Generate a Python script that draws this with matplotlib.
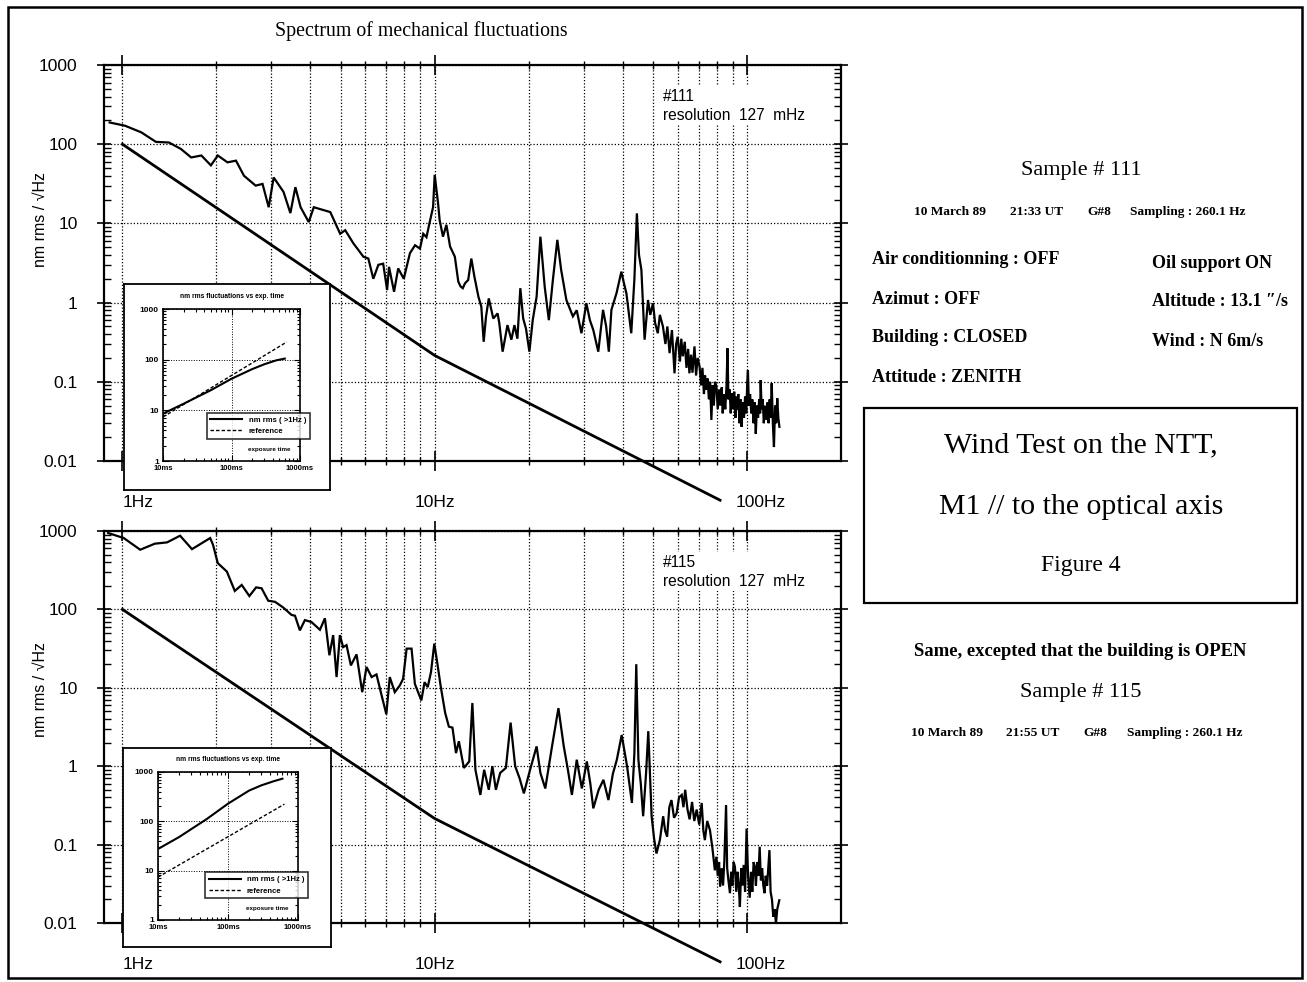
''' NTT wind test: spectrum of mechanical fluctuations '''
import matplotlib
matplotlib.use('Agg')
import matplotlib.pyplot as plt
from matplotlib.ticker import FixedLocator, NullFormatter, LogLocator
from matplotlib.patches import Rectangle

SANS = ['Liberation Sans', 'DejaVu Sans']
SERIF = ['Liberation Serif', 'DejaVu Serif']

# ---------------- data ----------------
# sample 111 (building closed): frequency [Hz], amplitude [nm rms / sqrt(Hz)]
freq_111 = [0.91, 1.02, 1.15, 1.28, 1.41, 1.54, 1.66, 1.79, 1.92, 2.02, 2.17, 2.31, 2.45, 2.67,
            2.81, 2.94, 3.05, 3.28, 3.45, 3.58, 3.72, 3.95, 4.10, 4.63, 4.98, 5.17, 5.49, 5.91,
            6.13, 6.36, 6.60, 6.84, 7.04, 7.14, 7.41, 7.64, 7.96, 8.33, 8.65, 8.97, 9.19, 9.41,
            9.64, 9.88, 10.0, 10.25, 10.37, 10.63, 10.9, 11.2, 11.6, 11.9, 12.1, 12.3, 12.5, 12.8,
            13.1, 13.4, 13.8, 14.1, 14.35, 14.6, 14.9, 15.4, 15.9, 16.1, 16.5, 17.1, 17.6, 18.0,
            18.4, 18.8, 19.2, 19.6, 20.1, 20.6, 21.2, 21.8, 22.5, 23.2, 23.9, 24.7, 25.4, 26.4,
            27.7, 28.5, 29.5, 30.6, 31.4, 32.2, 33.4, 34.6, 35.4, 36.1, 36.8, 38.2, 39.6, 40.3,
            41.1, 42.6, 43.6, 44.4, 45.1, 45.9, 47.0, 48.2, 49.0, 50.0, 50.8, 51.8, 52.6, 53.8,
            54.8, 55.6, 56.5, 57.5, 58.6, 59.3, 60.0, 61.0, 61.6, 62.3, 63.2, 64.0, 64.8, 65.4,
            66.2, 66.9, 67.9, 68.7, 69.5, 70.5, 71.3, 72.0, 72.8, 73.4, 74.0, 74.8, 75.5, 76.2,
            76.9, 77.6, 78.3, 79.0, 79.8, 80.6, 81.4, 82.2, 83.0, 83.6, 84.4, 85.2, 86.0, 86.6,
            87.2, 88.0, 88.7, 89.4, 90.2, 91.0, 91.8, 92.4, 93.0, 93.8, 94.6, 95.4, 96.1, 97.0,
            97.8, 98.6, 99.5, 100.2, 100.7, 101.4, 102.3, 103.2, 104.0, 104.9, 105.8, 106.7,
            107.6, 108.5, 109.4, 110.2, 110.6, 111.4, 112.3, 113.2, 114.2, 115.5, 116.4, 117.3,
            118.2, 119.1, 120.0, 121.0, 122.0, 123.0, 124.0, 125.0, 126.0, 127.0]
amp_111 = [188, 171, 141, 107, 105, 87, 68, 72, 54, 72, 59, 62, 40, 30,
           31.5, 16, 38, 25, 13.5, 28.7, 16, 10.4, 16, 13.9, 7.4, 8.2, 5.6, 3.8,
           3.6, 2.0, 3.0, 3.1, 1.44, 2.83, 1.37, 2.7, 2.0, 4.2, 5.3, 4.8, 7.4, 6.7,
           10.4, 16, 41, 18, 11, 6.8, 9.6, 5.1, 3.8, 1.84, 1.6, 1.52, 1.75, 1.93,
           3.6, 2.13, 1.19, 0.89, 0.32, 0.67, 1.13, 0.63, 0.73, 0.55, 0.24, 0.52, 0.34, 0.52,
           0.35, 1.52, 0.63, 0.47, 0.24, 0.6, 1.19, 6.8, 1.59, 0.6, 1.93, 6.2, 2.6, 1.08,
           0.67, 0.8, 0.41, 0.98, 0.6, 0.45, 0.24, 0.81, 0.5, 0.24, 0.81, 1.31, 2.46, 1.8,
           1.31, 0.41, 2.0, 13.4, 4.0, 2.6, 0.34, 1.08, 0.7, 0.98, 0.55, 0.41, 0.7, 0.5,
           0.3, 0.5, 0.23, 0.45, 0.128, 0.3, 0.37, 0.18, 0.35, 0.21, 0.32, 0.15, 0.26, 0.128,
           0.22, 0.13, 0.28, 0.12, 0.2, 0.156, 0.09, 0.15, 0.07, 0.12, 0.079, 0.11, 0.06, 0.1,
           0.033, 0.09, 0.05, 0.1, 0.087, 0.045, 0.08, 0.05, 0.085, 0.040, 0.07, 0.045, 0.09, 0.265,
           0.06, 0.08, 0.04, 0.072, 0.045, 0.075, 0.035, 0.065, 0.044, 0.07, 0.03, 0.06, 0.027, 0.055,
           0.035, 0.065, 0.04, 0.1, 0.14, 0.05, 0.07, 0.040, 0.06, 0.03, 0.055, 0.022,
           0.05, 0.035, 0.06, 0.04, 0.105, 0.045, 0.06, 0.03, 0.05, 0.033, 0.055, 0.03,
           0.06, 0.035, 0.096, 0.03, 0.015, 0.05, 0.03, 0.062, 0.035, 0.027]

# sample 115 (building open)
freq_115 = [0.90, 1.01, 1.14, 1.27, 1.39, 1.53, 1.67, 1.91, 1.95, 2.02, 2.16, 2.29, 2.41, 2.55,
            2.68, 2.79, 2.93, 3.08, 3.27, 3.48, 3.57, 3.70, 3.84, 4.03, 4.29, 4.45, 4.60, 4.73,
            4.85, 4.97, 5.09, 5.22, 5.39, 5.62, 5.86, 6.05, 6.28, 6.51, 6.74, 7.00, 7.18, 7.45,
            7.73, 7.92, 8.13, 8.43, 8.64, 9.06, 9.28, 9.50, 9.73, 9.97, 10.2, 10.45, 10.8, 11.1,
            11.4, 11.7, 11.95, 12.4, 12.9, 13.2, 13.5, 14.0, 14.4, 14.9, 15.3, 15.7, 16.2, 16.9,
            17.5, 18.1, 18.7, 19.3, 20.2, 21.2, 21.8, 22.6, 23.7, 24.9, 25.9, 26.7, 27.5, 28.5,
            29.6, 30.7, 31.5, 32.2, 33.5, 34.7, 36.0, 37.2, 38.3, 39.7, 41.3, 42.8, 43.6, 44.2,
            44.9, 45.7, 46.5, 47.5, 48.3, 49.5, 50.4, 51.3, 52.6, 53.9, 54.7, 55.5, 56.4, 57.3,
            58.4, 59.5, 60.6, 61.8, 62.6, 63.4, 64.5, 65.5, 66.7, 67.8, 69.0, 70.3, 71.6, 72.5,
            73.3, 74.6, 76.1, 77.5, 78.9, 79.8, 80.6, 81.4, 82.0, 83.0, 83.8, 84.6, 85.7, 86.4,
            87.2, 88.2, 89.0, 89.8, 90.6, 91.5, 92.4, 93.2, 94.1, 94.9, 95.8, 96.7, 97.6, 98.6,
            99.7, 100.8, 102.0, 103.0, 104.0, 105.0, 105.9, 106.8, 107.8, 108.8, 109.8, 110.8,
            111.8, 112.8, 113.8, 114.8, 116.0, 117.0, 118.0, 119.0, 120.2, 121.4, 122.6, 123.8,
            125.0, 126.9]
amp_115 = [942, 813, 577, 689, 716, 871, 587, 813, 668, 389, 304, 172, 205, 148,
           191, 186, 129, 125, 106, 85, 83, 54, 73, 69, 55, 77, 26, 47,
           13.7, 47, 33, 35, 19.3, 26.7, 8.8, 18.4, 13.7, 14.8, 8.4, 4.6, 13.7, 8.8,
           10.7, 13, 31.6, 31.6, 11.2, 6.9, 11.8, 10.2, 15.9, 36.6, 20.3, 10.5, 4.8, 3.2,
           3.1, 1.47, 2.08, 0.95, 1.15, 6.4, 0.9, 0.43, 0.9, 0.5, 1.0, 0.5, 0.82, 0.95,
           3.6, 1.0, 0.7, 0.45, 0.9, 1.79, 0.82, 0.52, 1.7, 5.5, 1.79, 0.9, 0.43, 1.21,
           0.52, 1.15, 0.6, 0.29, 0.5, 0.67, 0.37, 0.8, 1.21, 2.5, 1.0, 0.34, 1.5, 20,
           1.21, 0.6, 0.23, 0.8, 2.8, 0.23, 0.12, 0.077, 0.114, 0.23, 0.15, 0.126, 0.3, 0.37,
           0.22, 0.25, 0.4, 0.43, 0.3, 0.5, 0.28, 0.21, 0.35, 0.2, 0.28, 0.18, 0.34, 0.15,
           0.114, 0.2, 0.153, 0.09, 0.047, 0.07, 0.04, 0.06, 0.029, 0.05, 0.03, 0.06, 0.32, 0.05,
           0.035, 0.024, 0.045, 0.03, 0.06, 0.052, 0.025, 0.045, 0.03, 0.016, 0.05, 0.03, 0.055, 0.025,
           0.16, 0.04, 0.021, 0.045, 0.025, 0.06, 0.052, 0.03, 0.06, 0.04, 0.094, 0.035,
           0.05, 0.03, 0.024, 0.04, 0.03, 0.05, 0.085, 0.025, 0.02, 0.012, 0.015, 0.0099,
           0.015, 0.0195]

# reference slope line (break points)
ref_freq = [1.0, 10.0, 82.0]
ref_amp = [100.0, 0.215, 0.0032]

# insets: nm rms fluctuations vs exposure time [ms]
inset_t = [10, 20, 50, 100, 200, 300, 450, 600]
inset_111 = [8.6, 13.5, 25, 42, 65, 81, 97, 105]
inset_115 = [27.5, 48, 112, 228, 420, 537, 650, 733]
ref_t = [10, 640]
ref_rms = [7.4, 223]

x_major = [1, 10, 100]
x_minor = [2, 3, 4, 5, 6, 7, 8, 9, 20, 30, 40, 50, 60, 70, 80, 90]
x_labels = ['1Hz', '10Hz', '100Hz']
x_label_pos = [1.12, 10.0, 111.0]
y_ticks = [0.01, 0.1, 1, 10, 100, 1000]
y_labels = ['0.01', '0.1', '1', '10', '100', '1000']

W, H = 1307, 982
fig = plt.figure(figsize=(W / 100, H / 100), dpi=100)


def rect(l, t, r, b):
    ''' pixel box -> figure fraction [left, bottom, width, height] '''
    return [l / W, 1 - b / H, (r - l) / W, (b - t) / H]


GRID = dict(color='black', linestyle=(0, (1, 1.6)), linewidth=0.9)


def spectrum_panel(top, bottom, freq, amp, tag):
    ax = fig.add_axes(rect(104, top, 841, bottom))
    ax.set_xscale('log')
    ax.set_yscale('log')
    ax.plot(freq, amp, color='black', lw=1.6, solid_joinstyle='miter', zorder=3)
    ax.plot(ref_freq, ref_amp, color='black', lw=2.0, clip_on=False, zorder=3)
    ax.set_xlim(0.873, 200)
    ax.set_ylim(0.01, 1000)

    ax.xaxis.set_major_locator(FixedLocator(x_major))
    ax.xaxis.set_minor_locator(FixedLocator(x_minor))
    ax.xaxis.set_major_formatter(NullFormatter())
    ax.xaxis.set_minor_formatter(NullFormatter())
    ax.yaxis.set_major_locator(FixedLocator(y_ticks))
    ax.yaxis.set_minor_locator(LogLocator(base=10, subs=range(2, 10)))
    ax.yaxis.set_minor_formatter(NullFormatter())
    ax.set_yticklabels(y_labels, family=SANS, fontsize=12.5)

    ax.grid(True, which='both', axis='x', **GRID)
    ax.grid(True, which='major', axis='y', **GRID)
    ax.tick_params(which='both', top=True, right=True, color='black')
    ax.tick_params(axis='x', which='major', direction='inout', length=14, width=1.2)
    ax.tick_params(axis='x', which='minor', direction='inout', length=6, width=1.0)
    ax.tick_params(axis='y', which='major', direction='inout', length=10, width=1.2, pad=14)
    ax.tick_params(axis='y', which='minor', direction='in', length=5, width=1.0)
    for s in ax.spines.values():
        s.set_linewidth(1.6)

    for lab, pos in zip(x_labels, x_label_pos):
        ax.annotate(lab, xy=(pos, 0), xycoords=('data', 'axes fraction'),
                    xytext=(0, -30), textcoords='offset points',
                    ha='center', va='center', family=SANS, fontsize=12.5)

    # gridlines stop under the sample note
    ax.text(0.758, 0.94, '#' + tag + '\nresolution  127  mHz', transform=ax.transAxes,
            ha='left', va='top', family=SANS, fontsize=11.2, linespacing=1.35, zorder=4,
            bbox=dict(boxstyle='square,pad=0.15', facecolor='white', edgecolor='none'))
    return ax


def inset_panel(frame, inner, rms):
    fr = fig.add_axes(rect(*frame))
    fr.set_xticks([])
    fr.set_yticks([])
    fr.set_facecolor('white')
    for s in fr.spines.values():
        s.set_linewidth(1.3)

    ia = fig.add_axes(rect(*inner))
    ia.set_xscale('log')
    ia.set_yscale('log')
    ia.plot(inset_t, rms, color='black', lw=1.5, label='nm rms ( >1Hz )')
    ia.plot(ref_t, ref_rms, color='black', lw=1.0, ls=(0, (2.5, 1.5)), label='reference')
    ia.set_xlim(10, 1000)
    ia.set_ylim(1, 1000)
    ia.set_xticks([10, 100, 1000])
    ia.set_xticklabels(['10ms', '100ms', '1000ms'], family=SANS, fontsize=5.5, weight='bold')
    ia.set_yticks([1, 10, 100, 1000])
    ia.set_yticklabels(['1', '10', '100', '1000'], family=SANS, fontsize=6, weight='bold')
    ia.xaxis.set_minor_formatter(NullFormatter())
    ia.yaxis.set_minor_formatter(NullFormatter())
    ia.grid(True, which='major', **dict(GRID, linewidth=0.7))
    ia.tick_params(which='both', top=True, right=True, direction='in', width=0.8)
    ia.tick_params(which='major', length=4, pad=3)
    ia.tick_params(which='minor', length=2)
    for s in ia.spines.values():
        s.set_linewidth(1.2)
    leg = ia.legend(loc='lower right', bbox_to_anchor=(1.1, 0.12),
                    prop=dict(family=SANS, weight='bold', size=5.5), frameon=True,
                    fancybox=False, handlelength=4.2, borderpad=0.5, labelspacing=0.5)
    leg.get_frame().set_edgecolor('black')
    leg.get_frame().set_linewidth(1.2)
    ia.text(0.5, 1.06, 'nm rms fluctuations vs exp. time', transform=ia.transAxes,
            ha='center', va='bottom', family=SANS, fontsize=4.8, weight='bold')
    ia.text(0.93, 0.06, 'exposure time', transform=ia.transAxes,
            ha='right', va='bottom', family=SANS, fontsize=4.5, weight='bold')


ax1 = spectrum_panel(65, 461, freq_111, amp_111, '111')
ax2 = spectrum_panel(531, 923, freq_115, amp_115, '115')
inset_panel((124, 284, 330, 490), (163, 309, 300, 461), inset_111)
inset_panel((123, 748, 331, 947), (158, 772, 298, 920), inset_115)

for yc in (220, 690):
    fig.text(40 / W, 1 - yc / H, 'nm rms / √Hz', rotation=90, ha='center', va='center',
             family=SANS, fontsize=11.5)


def ptext(x, y, s, size, ha='left', weight='normal'):
    fig.text(x / W, 1 - y / H, s, ha=ha, va='center', family=SERIF, fontsize=size,
             weight=weight)


ptext(421, 31, 'Spectrum of mechanical fluctuations', 14.3, ha='center')
ptext(1081, 170, 'Sample # 111', 16, ha='center')
for x, s in zip((914, 1010, 1087, 1130), ('10 March 89', '21:33 UT', 'G#8', 'Sampling : 260.1 Hz')):
    ptext(x, 212, s, 9.6, weight='bold')
for y, s in zip((260, 299, 338, 378),
                ('Air conditionning : OFF', 'Azimut : OFF', 'Building : CLOSED', 'Attitude : ZENITH')):
    ptext(872, y, s, 13, weight='bold')
for y, s in zip((263, 302, 341), ('Oil support ON', 'Altitude : 13.1 ″/s', 'Wind : N 6m/s')):
    ptext(1152, y, s, 13, weight='bold')

fig.add_artist(Rectangle((864 / W, 1 - 603 / H), (1297 - 864) / W, (603 - 408) / H,
                         transform=fig.transFigure, fill=False, lw=1.6, color='black'))
ptext(1081, 445, 'Wind Test on the NTT,', 21.5, ha='center')
ptext(1081, 507, 'M1 // to the optical axis', 21.5, ha='center')
ptext(1081, 565, 'Figure 4', 17, ha='center')

ptext(1080, 651, 'Same, excepted that the building is OPEN', 13.4, ha='center', weight='bold')
ptext(1081, 693, 'Sample # 115', 16, ha='center')
for x, s in zip((911, 1006, 1083, 1127), ('10 March 89', '21:55 UT', 'G#8', 'Sampling : 260.1 Hz')):
    ptext(x, 733, s, 9.6, weight='bold')

# scanned page border
fig.add_artist(Rectangle((8 / W, 1 - 978 / H), (1302 - 8) / W, (978 - 7) / H,
                         transform=fig.transFigure, fill=False, lw=1.8, color='black'))

fig.savefig('out.png', dpi=100)
